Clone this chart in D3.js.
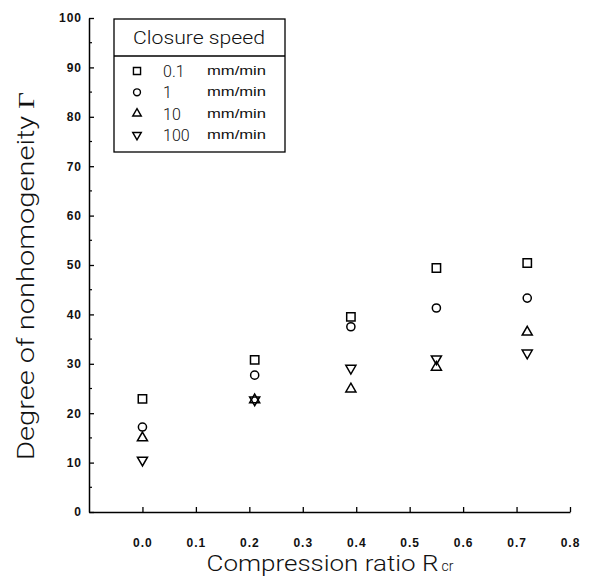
<!DOCTYPE html>
<html lang="en">
<head>
    <meta charset="UTF-8">
    <title>Nonhomogeneity vs compression ratio</title>
    <script src="https://d3js.org/d3.v7.min.js"></script>
    <style>
        body { margin: 0; background: #fff; }
        .light { font-family: Roboto, "Liberation Sans", sans-serif; font-weight: 300; }
    </style>
</head>
<body>
<div id="chart"></div>
<script>
    // values
    const ratios = [0.0, 0.21, 0.39, 0.55, 0.72];
    const speed01 = [22.9, 30.8, 39.5, 49.4, 50.4];
    const speed1 = [17.2, 27.7, 37.5, 41.3, 43.3];
    const speed10 = [15.0, 22.7, 24.9, 29.3, 36.4];
    const speed100 = [10.5, 22.7, 29.1, 31.0, 32.2];
    const speedLabels = ['0.1', '1', '10', '100'];
    const xTicks = [0, 0.1, 0.2, 0.3, 0.4, 0.5, 0.6, 0.7, 0.8];
    const yTicks = [0, 10, 20, 30, 40, 50, 60, 70, 80, 90, 100];
    const yMinor = [5, 15, 25, 35, 45, 55, 65, 75, 85, 95];

    let width = 589, height = 578,
        series = [speed01, speed1, speed10, speed100],
        shapes = ['square', 'circle', 'up', 'down'];

    let x = d3.scaleLinear().domain([-0.1, 0.8]).range([89, 570]),
        y = d3.scaleLinear().domain([0, 100]).range([512, 18]);

    let svg = d3.select('#chart').append('svg')
        .attr('width', width)
        .attr('height', height)
        .style('font-family', '"Liberation Sans", Arial, sans-serif');

    // symbol path, sizes tuned to the scan
    function sym(shape, k) {
        if (shape == 'square') return d3.symbol(d3.symbolSquare, 70 * k * k)();
        if (shape == 'circle') return d3.symbol(d3.symbolCircle, 52 * k * k)();
        return d3.symbol(d3.symbolTriangle, 44 * k * k)();
    }

    // y axis
    let gy = svg.append('g').attr('transform', `translate(${x(-0.1)},0)`)
        .call(d3.axisLeft(y).tickValues(yTicks).tickSizeInner(-5).tickSizeOuter(0).tickPadding(7));
    gy.selectAll('.tick line').attr('stroke-width', 1.3);
    gy.select('.domain').attr('stroke-width', 1.5);
    gy.selectAll('text').style('font-size', '12px').style('font-weight', 'bold')
        .style('letter-spacing', '1px').attr('fill', '#111');
    gy.selectAll('.minor').data(yMinor).enter().append('line')
        .attr('x1', 0).attr('x2', 3)
        .attr('y1', d => y(d)).attr('y2', d => y(d))
        .attr('stroke', '#000').attr('stroke-width', 1.2);

    // x axis
    let gx = svg.append('g').attr('transform', `translate(0,${y(0)})`)
        .call(d3.axisBottom(x).tickValues(xTicks).tickFormat(d3.format('.1f'))
            .tickSizeInner(-5).tickSizeOuter(0).tickPadding(26));
    gx.selectAll('.tick line').attr('stroke-width', 1.3);
    gx.select('.domain').attr('stroke-width', 1.5);
    gx.selectAll('text').style('font-size', '12px').style('font-weight', 'bold')
        .style('letter-spacing', '1px').attr('fill', '#111');

    // axis titles
    let xt = svg.append('text').attr('class', 'light')
        .attr('x', 330).attr('y', 571)
        .attr('text-anchor', 'middle')
        .style('font-size', '22px').attr('fill', '#111');
    xt.append('tspan').text('Compression ratio R')
        .attr('textLength', 232).attr('lengthAdjust', 'spacingAndGlyphs');
    xt.append('tspan').text('cr').style('font-size', '14px').attr('dx', 3);

    let yt = svg.append('text').attr('class', 'light')
        .attr('transform', 'translate(34,276) rotate(-90)')
        .attr('text-anchor', 'middle')
        .attr('textLength', 368).attr('lengthAdjust', 'spacingAndGlyphs')
        .style('font-size', '23px').attr('fill', '#111');
    yt.append('tspan').text('Degree of nonhomogeneity ');
    yt.append('tspan').text('\u0393').style('font-family', '"Liberation Serif", serif').style('font-weight', 'normal');

    // points
    series.forEach((s, i) => {
        svg.append('g').selectAll('path').data(s).enter().append('path')
            .attr('d', sym(shapes[i], 1))
            .attr('transform', (d, j) => `translate(${x(ratios[j])},${y(d)})` + (shapes[i] == 'down' ? ' rotate(180)' : ''))
            .attr('fill', 'none').attr('stroke', '#000').attr('stroke-width', 1.5);
    });

    // legend
    let lg = svg.append('g');
    lg.append('rect').attr('x', 114).attr('y', 19).attr('width', 171).attr('height', 133)
        .attr('fill', '#fff').attr('stroke', '#000').attr('stroke-width', 1.3);
    lg.append('line').attr('x1', 114).attr('x2', 285).attr('y1', 56).attr('y2', 56)
        .attr('stroke', '#000').attr('stroke-width', 1.3);
    lg.append('text').attr('class', 'light').attr('x', 199).attr('y', 44).attr('text-anchor', 'middle')
        .attr('textLength', 132).attr('lengthAdjust', 'spacingAndGlyphs')
        .style('font-size', '18px').attr('fill', '#111').text('Closure speed');

    let rows = lg.selectAll('.row').data(speedLabels).enter().append('g')
        .attr('transform', (d, i) => `translate(0,${71 + i * 21.3})`);
    rows.append('path')
        .attr('d', (d, i) => sym(shapes[i], 0.85))
        .attr('transform', (d, i) => 'translate(137,0)' + (shapes[i] == 'down' ? ' rotate(180)' : ''))
        .attr('fill', 'none').attr('stroke', '#000').attr('stroke-width', 1.4);
    rows.append('text').attr('class', 'light').attr('x', 163).attr('y', 6)
        .style('font-size', '16px').attr('fill', '#111').text(d => d);
    rows.append('text').attr('x', 207).attr('y', 4)
        .attr('textLength', 59).attr('lengthAdjust', 'spacingAndGlyphs')
        .style('font-size', '13px').attr('fill', '#111').text('mm/min');
</script>
</body>
</html>
